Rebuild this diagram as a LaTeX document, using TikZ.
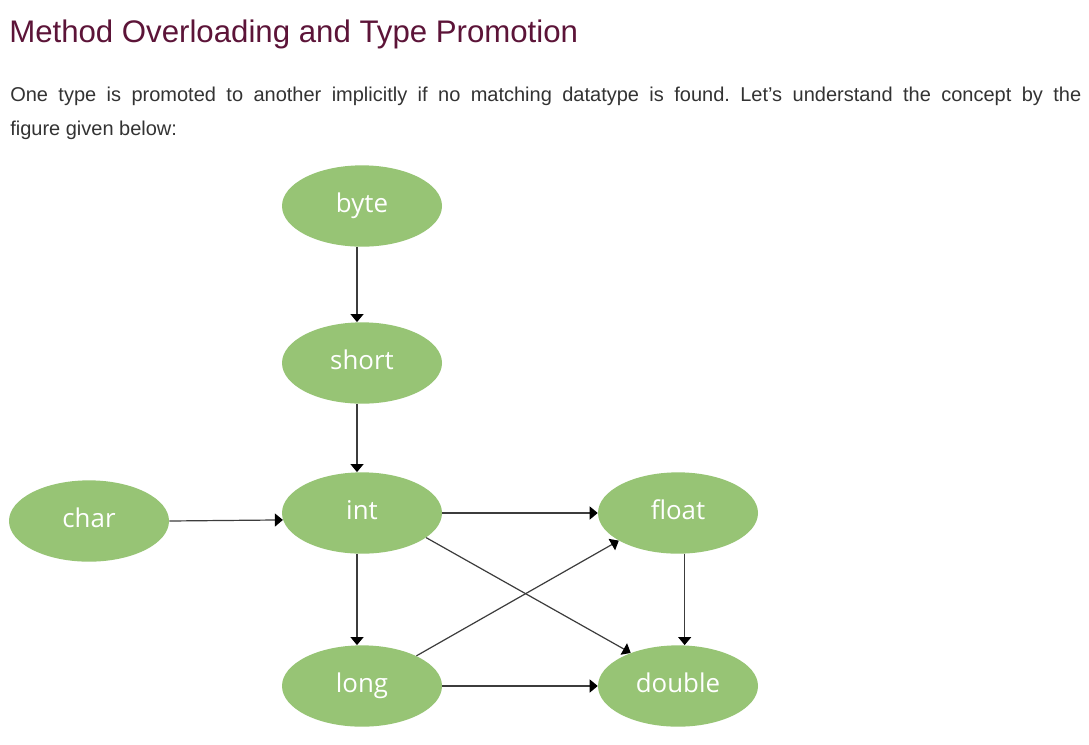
\documentclass[tikz,border=0pt]{standalone}
\usepackage{fontspec}
\setmainfont{Liberation Sans}
\newfontfamily\nodefont{Open Sans}
\usetikzlibrary{arrows.meta,shapes.geometric}
\definecolor{titlecol}{RGB}{92,20,56}
\definecolor{textcol}{RGB}{51,51,51}
\definecolor{nodegreen}{RGB}{151,196,117}
\definecolor{linecol}{RGB}{60,60,60}
\tikzset{
  typenode/.style={ellipse, fill=nodegreen, draw=none, inner sep=0pt,
    minimum width=120pt, minimum height=61pt,
    text=white, font=\nodefont\fontsize{19.4pt}{22pt}\selectfont,
    text height=14.5pt, text depth=4.2pt},
  promo/.style={draw=linecol, line width=0.9pt,
    -{Triangle[width=9.75pt,length=6pt,fill=black,color=black]}},
}
\frenchspacing
\begin{document}
\begin{tikzpicture}[x=0.75pt,y=-0.75pt]
\useasboundingbox[fill=white] (0,0) rectangle (1089,744);
% title and paragraph
\node[anchor=base west, inner sep=0pt, text=titlecol,
  font=\fontsize{23.4pt}{27pt}\selectfont] (title) at (9,42)
  {Method Overloading and Type Promotion};
\node[anchor=base west, inner sep=0pt, text=textcol,
  font=\fontsize{15pt}{18pt}\selectfont] (line1) at (10,101)
  {\makebox[803.25pt][s]{One type is promoted to another implicitly if no matching datatype is found. Let's understand the concept by the}};
\node[anchor=base west, inner sep=0pt, text=textcol,
  font=\fontsize{15pt}{18pt}\selectfont] (line2) at (10,135)
  {figure given below:};
% type nodes
\node[typenode] (byte)   at (362,206) {byte};
\node[typenode] (short)  at (362,363) {short};
\node[typenode] (int)    at (362,513) {int};
\node[typenode] (char)   at (89,521)  {char};
\node[typenode] (float)  at (678,513) {float};
\node[typenode] (long)   at (362,686) {long};
\node[typenode] (double) at (678,686) {double};
% promotions
\draw[promo] ([xshift=-3.75pt]byte.south) -- ([xshift=-3.75pt]short.north);
\draw[promo] ([xshift=-3.75pt]short.south) -- ([xshift=-3.75pt]int.north);
\draw[promo] ([xshift=-3.75pt]int.south) -- ([xshift=-3.75pt]long.north);
\draw[promo] (char.east) -- (int.185.8);
\draw[promo] (int.east) -- (float.west);
\draw[promo] (long.east) -- (double.west);
\draw[promo] ([xshift=5pt]float.south) -- ([xshift=5pt]double.north);
\draw[promo] (int.-21.6) -- (double.145.5);
\draw[promo] (long.29.9) -- (float.-155.8);
\end{tikzpicture}
\end{document}
